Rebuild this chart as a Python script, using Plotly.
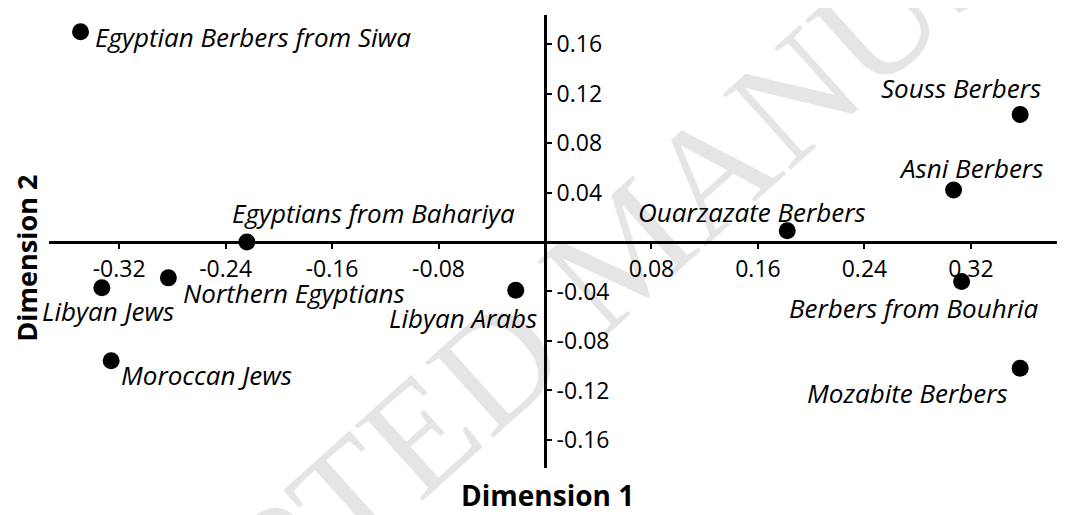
""" MDS plot of North African populations """

import plotly.graph_objects as go

# data
populations = [
    "Egyptian Berbers from Siwa",
    "Egyptians from Bahariya",
    "Souss Berbers",
    "Asni Berbers",
    "Ouarzazate Berbers",
    "Libyan Jews",
    "Northern Egyptians",
    "Moroccan Jews",
    "Libyan Arabs",
    "Berbers from Bouhria",
    "Mozabite Berbers",
]
dim1 = [-0.349, -0.224, 0.357, 0.307, 0.182, -0.333, -0.283, -0.326, -0.022, 0.313, 0.357]
dim2 = [0.170, 0.0, 0.103, 0.042, 0.009, -0.037, -0.029, -0.096, -0.039, -0.032, -0.102]

x_ticks = [-0.32, -0.24, -0.16, -0.08, 0.08, 0.16, 0.24, 0.32]
y_ticks = [-0.16, -0.12, -0.08, -0.04, 0.04, 0.08, 0.12, 0.16]

# label placement (anchor, xshift, yshift) in pixels
label_pos = {
    "Egyptian Berbers from Siwa": ("left", 12, -5),
    "Egyptians from Bahariya": ("left", -17, 29),
    "Souss Berbers": ("right", 23, 27),
    "Asni Berbers": ("center", 17, 22),
    "Ouarzazate Berbers": ("center", -35, 19),
    "Libyan Jews": ("left", -62, -23),
    "Northern Egyptians": ("left", 13, -15),
    "Moroccan Jews": ("left", 8, -14),
    "Libyan Arabs": ("right", 23, -28),
    "Berbers from Bouhria": ("right", 78, -26),
    "Mozabite Berbers": ("right", -10, -25),
}

X_RANGE = [-0.3727, 0.3907]
Y_RANGE = [-0.1827, 0.1835]
FONT = "Open Sans"

fig = go.Figure(
    go.Scatter(
        x=dim1,
        y=dim2,
        mode="markers",
        marker=dict(size=17, color="black"),
        hoverinfo="text",
        text=populations,
    )
)

annotations = [
    # watermark
    dict(
        text="ACCEPTED MANUSCRIPT",
        xref="paper", yref="paper", x=0.568, y=0.485,
        showarrow=False, textangle=-42,
        font=dict(family="Liberation Serif", size=155, color="rgba(0,0,0,0.10)"),
    )
]
for name, x, y in zip(populations, dim1, dim2):
    anchor, dx, dy = label_pos[name]
    annotations.append(
        dict(
            text=f"<i>{name}</i>", x=x, y=y, xref="x", yref="y",
            showarrow=False, xanchor=anchor, yanchor="middle",
            xshift=dx, yshift=dy,
            font=dict(family=FONT, size=26, color="black"),
        )
    )

annotations.append(
    dict(text="<b>Dimension 1</b>", xref="paper", yref="paper", x=0.491, y=-0.0596,
         showarrow=False, xanchor="center", yanchor="middle",
         font=dict(family=FONT, size=28, color="black"))
)
annotations.append(
    dict(text="<b>Dimension 2</b>", xref="paper", yref="paper", x=-0.022, y=0.4636,
         showarrow=False, textangle=-90, xanchor="center", yanchor="middle",
         borderpad=0, font=dict(family=FONT, size=27, color="black"))
)

axis_style = dict(
    showgrid=False, zeroline=False, showline=True, linecolor="black", linewidth=3,
    ticks="outside", ticklen=5, tickwidth=2, tickcolor="black",
    tickfont=dict(family=FONT, size=23, color="black"),
    anchor="free",
)

# the page adds an 8px body margin, so the figure is 8px smaller
fig.update_layout(
    width=1057,
    height=507,
    margin={"l": 41, "r": 0, "t": 7, "b": 47},
    plot_bgcolor="white",
    paper_bgcolor="white",
    showlegend=False,
    annotations=annotations,
    xaxis=dict(
        range=X_RANGE, tickvals=x_ticks, ticktext=[f"{v:.2f}" for v in x_ticks],
        position=(0 - Y_RANGE[0]) / (Y_RANGE[1] - Y_RANGE[0]),
        **axis_style,
    ),
    yaxis=dict(
        range=Y_RANGE, tickvals=y_ticks, ticktext=[f"{v:.2f}" for v in y_ticks],
        position=(0 - X_RANGE[0]) / (X_RANGE[1] - X_RANGE[0]), side="right",
        **axis_style,
    ),
)

fig.write_html("out.html")
